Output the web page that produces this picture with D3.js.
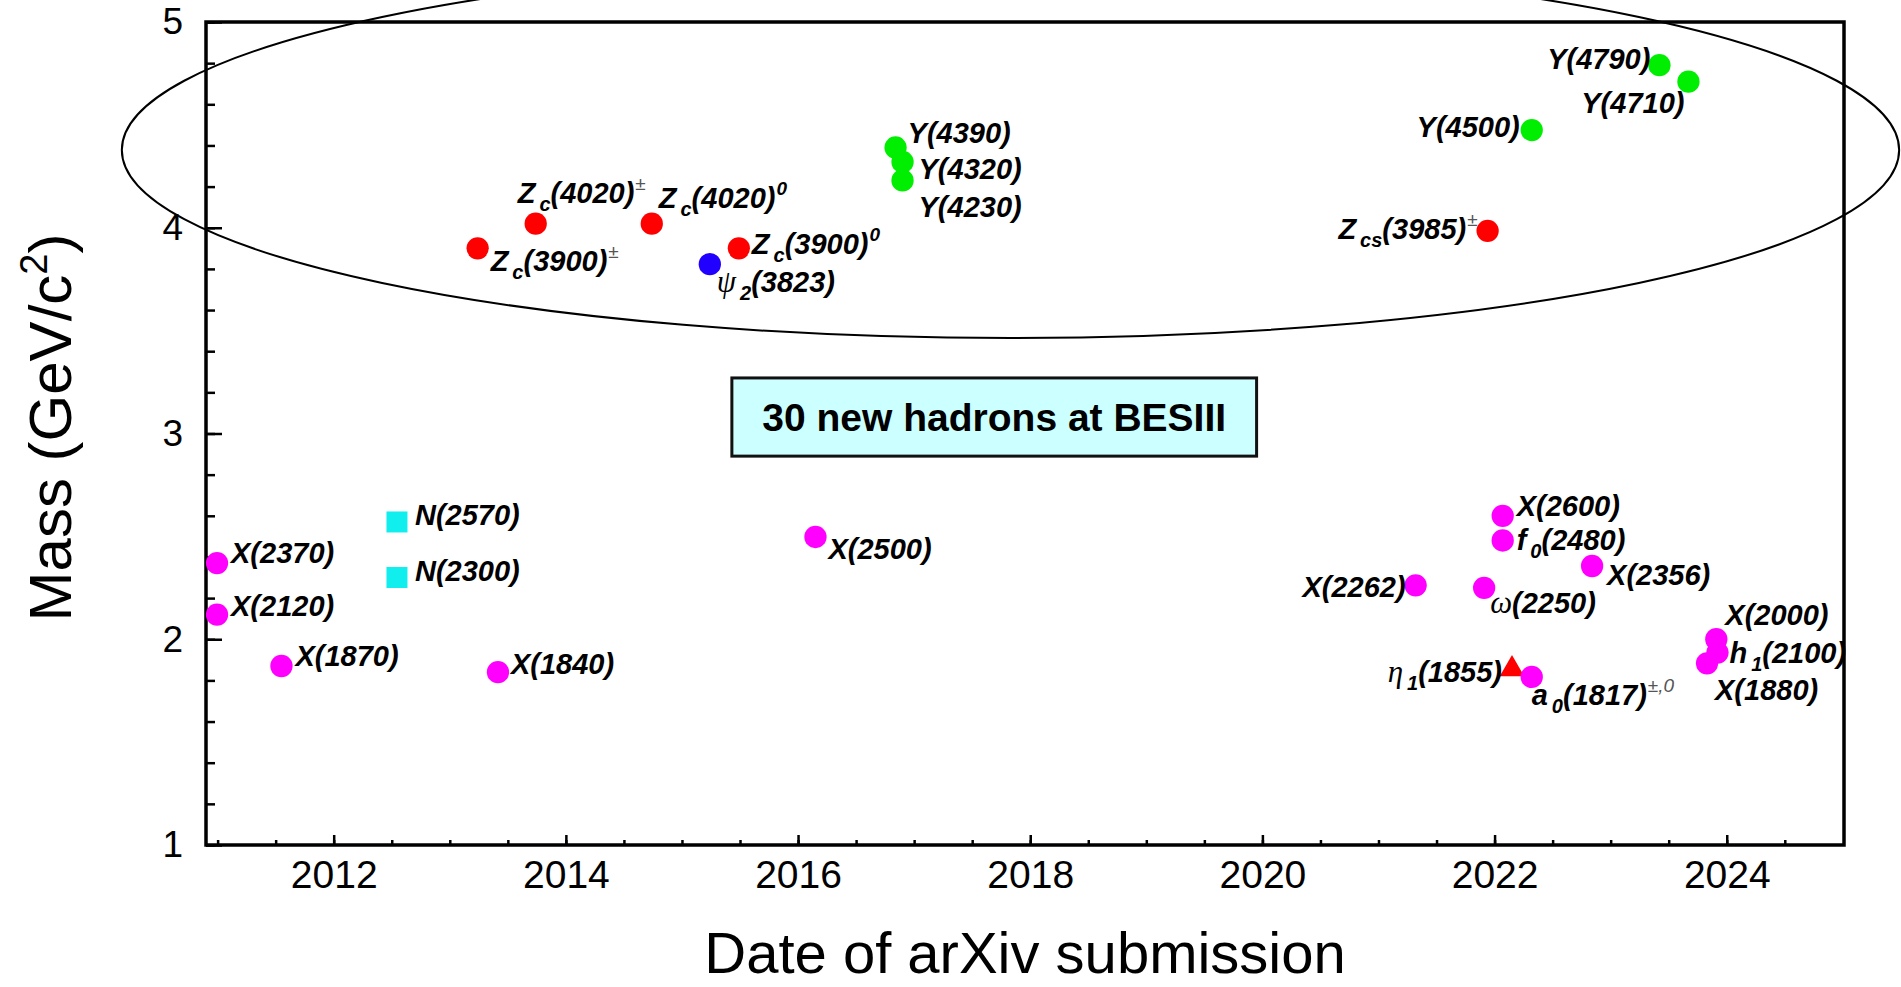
<!DOCTYPE html>
<html>
<head>
<meta charset="utf-8">
<title>New hadrons at BESIII</title>
<script src="https://cdn.jsdelivr.net/npm/d3@7"></script>
<style>
  body { margin: 0; background: #fff; }
  svg { display: block; font-family: "Liberation Sans", Arial, Helvetica, sans-serif; }
  .axis path { display: none; }
  .axis line { stroke: #000; stroke-width: 2.5; }
  .axis text { font-family: "Liberation Sans", Arial, sans-serif; fill: #000; }
  .x.axis text { font-size: 39px; }
  .y.axis text { font-size: 37px; }
  .label { font-size: 29px; font-weight: bold; font-style: italic; fill: #000; }
  .label .greek { font-family: "Liberation Serif", "DejaVu Serif", serif; font-weight: normal; font-size: 31px; }
  .title { font-size: 58px; fill: #000; }
</style>
</head>
<body>
<script>
// hadrons, ordered by date of arXiv submission
var names = ["X(2370)", "X(2120)", "X(1870)", "N(2570)", "N(2300)",
             "Z_{c}(3900)^{±}", "X(1840)", "Z_{c}(4020)^{±}", "Z_{c}(4020)^{0}", "ψ_{2}(3823)",
             "Z_{c}(3900)^{0}", "X(2500)", "Y(4390)", "Y(4320)", "Y(4230)",
             "X(2262)", "ω(2250)", "Z_{cs}(3985)^{±}", "X(2600)", "f_{0}(2480)",
             "η_{1}(1855)", "Y(4500)", "a_{0}(1817)^{±,0}", "X(2356)", "Y(4790)",
             "Y(4710)", "X(1880)", "X(2000)", "h_{1}(2100)"];
var dates = [2010.995, 2010.995, 2011.55, 2012.545, 2012.545,
             2013.24, 2013.415, 2013.74, 2014.74, 2015.24,
             2015.49, 2016.15, 2016.84, 2016.90, 2016.90,
             2021.32, 2021.91, 2021.94, 2022.07, 2022.07,
             2022.15, 2022.32, 2022.32, 2022.84, 2023.42,
             2023.67, 2023.83, 2023.91, 2023.92];
var masses = [2.370, 2.120, 1.870, 2.570, 2.300,
              3.900, 1.840, 4.020, 4.020, 3.823,
              3.900, 2.497, 4.390, 4.320, 4.230,
              2.262, 2.250, 3.985, 2.600, 2.480,
              1.855, 4.475, 1.817, 2.356, 4.790,
              4.710, 1.883, 2.000, 1.935];
var kinds = ["light", "light", "light", "baryon", "baryon",
             "zc", "light", "zc", "zc", "psi",
             "zc", "light", "vector", "vector", "vector",
             "light", "light", "zc", "light", "light",
             "hybrid", "vector", "light", "light", "vector",
             "vector", "light", "light", "light"];

// axes
var xTicks = [2012, 2014, 2016, 2018, 2020, 2022, 2024];
var yTicks = [1, 2, 3, 4, 5];
var xDomain = [2010.9, 2025.01];
var yDomain = [1, 5];

// annotations, in data units
var ring = [2017.83, 4.378, 7.655, 0.914];     // centre date, centre mass, half width (yr), half height (GeV)
var boxCorners = [2015.43, 3.27, 2019.95, 2.89];
var boxText = "30 new hadrons at BESIII";

var width = 1901, height = 987;
var margin = {left: 206, right: 57, top: 22, bottom: 142};

var x = d3.scaleLinear().domain(xDomain).range([margin.left, width - margin.right]);
var y = d3.scaleLinear().domain(yDomain).range([height - margin.bottom, margin.top]);

var colors = d3.scaleOrdinal()
    .domain(["light", "baryon", "zc", "psi", "vector", "hybrid"])
    .range(["#ff00ff", "#11eeee", "#ff0000", "#2200ff", "#00ee00", "#ff0000"]);

var svg = d3.select("body").append("svg")
    .attr("width", width)
    .attr("height", height);

// minor ticks first, then the labelled ones
svg.append("g")
    .attr("class", "x axis")
    .attr("transform", "translate(0," + y.range()[0] + ")")
    .call(d3.axisBottom(x).tickValues(d3.range(2011, 2024.6, 0.5)).tickSize(-5).tickFormat(""));
svg.append("g")
    .attr("class", "x axis")
    .attr("transform", "translate(0," + y.range()[0] + ")")
    .call(d3.axisBottom(x).tickValues(xTicks).tickSize(-10).tickPadding(15).tickFormat(d3.format("d")));

svg.append("g")
    .attr("class", "y axis")
    .attr("transform", "translate(" + x.range()[0] + ",0)")
    .call(d3.axisLeft(y).tickValues(d3.range(1, 5.01, 0.2)).tickSize(-9).tickFormat(""));
svg.append("g")
    .attr("class", "y axis")
    .attr("transform", "translate(" + x.range()[0] + ",0)")
    .call(d3.axisLeft(y).tickValues(yTicks).tickSize(-16).tickPadding(23).tickFormat(d3.format("d")));

// frame
svg.append("rect")
    .attr("x", x.range()[0])
    .attr("y", y.range()[1])
    .attr("width", x.range()[1] - x.range()[0])
    .attr("height", y.range()[0] - y.range()[1])
    .attr("fill", "none")
    .attr("stroke", "#000")
    .attr("stroke-width", 3.5);

// ring round the heavy states
svg.append("ellipse")
    .attr("cx", x(ring[0]))
    .attr("cy", y(ring[1]))
    .attr("rx", x(ring[0] + ring[2]) - x(ring[0]))
    .attr("ry", y(ring[1] - ring[3]) - y(ring[1]))
    .attr("fill", "none")
    .attr("stroke", "#000")
    .attr("stroke-width", 2);

// text box
svg.append("rect")
    .attr("x", x(boxCorners[0]))
    .attr("y", y(boxCorners[1]))
    .attr("width", x(boxCorners[2]) - x(boxCorners[0]))
    .attr("height", y(boxCorners[3]) - y(boxCorners[1]))
    .attr("fill", "#ccffff")
    .attr("stroke", "#111")
    .attr("stroke-width", 3);
svg.append("text")
    .attr("x", (x(boxCorners[0]) + x(boxCorners[2])) / 2)
    .attr("y", (y(boxCorners[1]) + y(boxCorners[3])) / 2)
    .attr("dy", "0.35em")
    .attr("text-anchor", "middle")
    .style("font-size", "39px")
    .style("font-weight", "bold")
    .text(boxText);

var hadrons = names.map(function(n, i) {
  return {name: n, date: dates[i], mass: masses[i], kind: kinds[i]};
});

// markers
var shapes = {baryon: d3.symbolSquare, hybrid: d3.symbolTriangle};
var sizes = {baryon: 441, hybrid: 260};
svg.append("g").selectAll("path")
    .data(hadrons)
  .enter().append("path")
    .attr("transform", function(d) { return "translate(" + x(d.date) + "," + y(d.mass) + ")"; })
    .attr("d", function(d) {
      return d3.symbol().type(shapes[d.kind] || d3.symbolCircle).size(sizes[d.kind] || 390)();
    })
    .attr("fill", function(d) { return colors(d.kind); });

// where each name sits relative to its marker: [dx, dy, anchor]
var labelPlace = {
  "X(2370)": [14, 0], "X(2120)": [14, 1], "X(1870)": [14, 0],
  "N(2570)": [18, 3], "N(2300)": [18, 3], "X(1840)": [13, 2],
  "Z_{c}(3900)^{±}": [13, 23], "Z_{c}(4020)^{±}": [-18, -21], "Z_{c}(4020)^{0}": [7, -16],
  "ψ_{2}(3823)": [7, 28], "Z_{c}(3900)^{0}": [13, 6], "X(2500)": [13, 22],
  "Y(4390)": [12, -5], "Y(4320)": [16, 17], "Y(4230)": [16, 37],
  "X(2262)": [-10, 12, "end"], "ω(2250)": [6, 25], "Z_{cs}(3985)^{±}": [-10, 8, "end"],
  "X(2600)": [14, 0], "f_{0}(2480)": [14, 10], "η_{1}(1855)": [-10, 13, "end"],
  "Y(4500)": [-12, 7, "end"], "a_{0}(1817)^{±,0}": [0, 28], "X(2356)": [15, 19],
  "Y(4790)": [-9, 4, "end"], "Y(4710)": [-4, 31, "end"], "X(1880)": [8, 37],
  "X(2000)": [9, -14], "h_{1}(2100)": [12, 10]
};

// names with sub- and superscripts: _{..} and ^{..}
function richLabel(text, str) {
  var re = /_\{([^}]*)\}|\^\{([^}]*)\}|([ψωη])|([^_^ψωη]+)/g, m, shift = 0;
  while ((m = re.exec(str))) {
    var t = text.append("tspan"), target = 0;
    if (m[1] !== undefined) {
      t.text(m[1]).style("font-size", "20px").attr("dx", 4);
      target = 8;
    } else if (m[2] !== undefined) {
      t.text(m[2]).style("font-size", "19px").attr("dx", 1);
      target = -13;
      if (m[2].indexOf("±") >= 0) t.style("font-weight", "normal").style("fill", "#555");
    } else if (m[3]) {
      t.text(m[3]).attr("class", "greek");
    } else {
      t.text(m[4]);
    }
    if (target !== shift) t.attr("dy", target - shift);
    shift = target;
  }
}

svg.append("g").selectAll("text")
    .data(hadrons)
  .enter().append("text")
    .attr("class", "label")
    .attr("x", function(d) { return x(d.date) + labelPlace[d.name][0]; })
    .attr("y", function(d) { return y(d.mass) + labelPlace[d.name][1]; })
    .attr("text-anchor", function(d) { return labelPlace[d.name][2] || "start"; })
    .each(function(d) { richLabel(d3.select(this), d.name); });

// axis titles
svg.append("text")
    .attr("class", "title")
    .attr("x", (x.range()[0] + x.range()[1]) / 2)
    .attr("y", 973)
    .attr("text-anchor", "middle")
    .text("Date of arXiv submission");

var yt = svg.append("text")
    .attr("class", "title")
    .attr("transform", "translate(71," + ((y.range()[0] + y.range()[1]) / 2 - 6) + ")rotate(-90)")
    .attr("text-anchor", "middle")
    .style("font-size", "60px");
yt.append("tspan").text("Mass (GeV/c");
yt.append("tspan").text("2").style("font-size", "38px").attr("dy", -24);
yt.append("tspan").text(")").attr("dy", 24);
</script>
</body>
</html>
